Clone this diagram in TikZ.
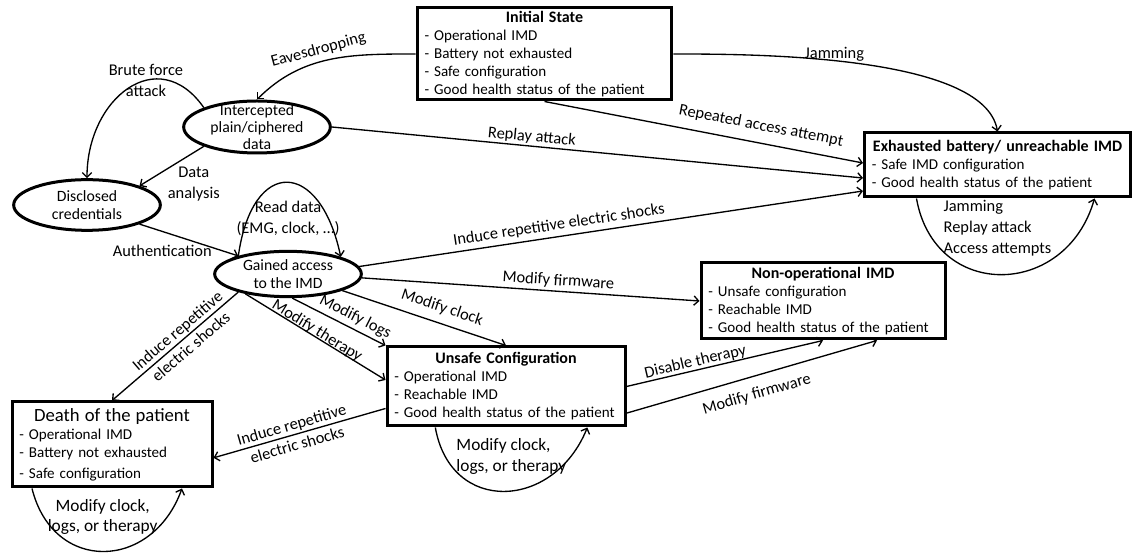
\documentclass[tikz,border=0pt]{standalone}
\usepackage{fontspec}
\setmainfont{Carlito}
\usetikzlibrary{arrows.meta, positioning, shapes.geometric}

\newcommand{\boxtitle}[1]{{\centering\fontsize{12}{14}\selectfont\bfseries #1\par}}

\begin{document}
\begin{tikzpicture}[x=0.75pt, y=0.75pt, line width=1pt,
    >={Straight Barb[length=3.5pt,width=7pt]},
    statebox/.style={draw, line width=2.25pt, align=left, inner xsep=5.5pt, inner ysep=0pt,
      font=\fontsize{11.3}{13.5}\selectfont},
    ellstate/.style={draw, ellipse, line width=2.25pt, align=center, inner xsep=0pt,
      inner ysep=-8pt, minimum width=110pt, font=\fontsize{11.8}{13}\selectfont},
    lbl/.style={inner sep=1pt, align=center, font=\fontsize{12.3}{15.5}\selectfont},
    looplbl/.style={lbl, font=\fontsize{13}{15.5}\selectfont}]
    \useasboundingbox (0,0) rectangle (1133,-555);

    \node [statebox, text width=180pt, minimum height=69pt] (init) at (544.5,-54)
      {\boxtitle{Initial State}- Operational IMD\\- Battery not exhausted\\- Safe configuration\\- Good health status of the patient};
    \node [statebox, text width=188.5pt, minimum height=48pt] (exh) at (997.5,-165)
      {\boxtitle{Exhausted battery/ unreachable IMD}- Safe IMD configuration\\- Good health status of the patient};
    \node [statebox, text width=172pt, minimum height=57pt] (nonop) at (823,-301)
      {\boxtitle{Non-operational IMD}- Unsafe configuration\\- Reachable IMD\\- Good health status of the patient};
    \node [statebox, text width=167.5pt, minimum height=59.25pt] (uns) at (506,-386.5)
      {\boxtitle{Unsafe Configuration}- Operational IMD\\- Reachable IMD\\- Good health status of the patient};
    \node [statebox, text width=139pt, minimum height=63.75pt] (death) at (112,-444.5)
      {{\centering\fontsize{14}{17}\selectfont Death of the patient\par}- Operational IMD\\- Battery not exhausted\\[2pt]- Safe configuration};

    \node [ellstate, minimum height=39pt] (int) at (257,-127) {Intercepted\\plain/ciphered\\data};
    \node [ellstate, minimum height=38pt] (dis) at (87,-205) {Disclosed\\credentials};
    \node [ellstate, minimum height=34pt] (gain) at (288,-274) {Gained access\\to the IMD};

    \node [lbl, above=9pt of gain] (readlbl) {Read data\\(EMG, clock, …)};
    \node [lbl, align=left, below=0pt of exh] (exhlbl) {Jamming\\Replay attack\\Access attempts};
    \node [looplbl, align=left, below=7pt of uns, xshift=4pt] (unslbl) {Modify clock,\\logs, or therapy};
    \node [looplbl, below=6.5pt of death, xshift=-7pt] (deathlbl) {Modify clock,\\logs, or therapy};

    \draw [->] (init.west) to [out=180, in=45] node [lbl, pos=0.55, above=2pt, sloped] {Eavesdropping} (int.north);
    \draw [->] (init.east) to [out=0, in=100, looseness=0.6] node [lbl, pos=0.44, above=-2pt] {Jamming} (exh.north);
    \draw [->] (init.south) -- node [lbl, pos=0.67, above=6pt, sloped] {Repeated access attempt} ([yshift=1.5pt]exh.west);
    \draw [->] (int.east) -- node [lbl, pos=0.375, above=0pt, sloped] {Replay attack} ([yshift=-9.75pt]exh.west);
    \draw [->] (int.200) -- node [lbl, pos=0.55, anchor=north west, xshift=-2pt, yshift=2pt] {Data\\analysis} (dis.20);
    \draw [->] (int.160) to [out=125, in=90, looseness=1.5] node [lbl, pos=0.38] {Brute force\\attack} (dis.north);
    \draw [->] (dis.340) -- node [lbl, pos=0.23, below=8.7pt] {Authentication} (gain.160);
    \draw [->] (gain.160) to [out=82, in=102, looseness=2.5] (gain.18);

    \draw [->] (gain.6) -- node [lbl, pos=0.4, above=1.8pt, sloped] {Induce repetitive electric shocks} ([yshift=-19.5pt]exh.west);
    \draw [->] (gain.357) -- node [lbl, pos=0.58, above=1pt, sloped] {Modify firmware} (nonop.west);
    \draw [->] (gain.343) -- node [lbl, pos=0.58, above=4.8pt, sloped] {Modify clock} (uns.north);
    \draw [->] (gain.280) -- node [lbl, pos=0.62, above=1.8pt, sloped] {Modify logs} (uns.north west);
    \draw [->] (gain.205) -- node [lbl, pos=0.49, above=-2.4pt, sloped] {Modify therapy} ([yshift=4.9pt]uns.west);
    \draw [->] (gain.200) -- node [lbl, pos=0.43, sloped] {Induce repetitive\\electric shocks} (death.north);

    \draw [->] ([yshift=-16.5pt]uns.west) -- node [lbl, pos=0.53, sloped] {Induce repetitive\\electric shocks} ([yshift=-10pt]death.east);
    \draw [->] (uns.east) -- node [lbl, pos=0.36, above=-0.6pt, sloped] {Disable therapy} (nonop.south);
    \draw [->] ([yshift=-20pt]uns.east) -- node [lbl, pos=0.5, below=7pt, sloped] {Modify firmware} ([xshift=40.5pt]nonop.south);

    \draw [->] ([xshift=-53pt]uns.south) to [out=-80, in=-112, looseness=1.5] ([xshift=61pt]uns.south);
    \draw [->] ([xshift=-60pt]death.south) to [out=-76, in=-110, looseness=1.5] ([xshift=52.5pt]death.south);
    \draw [->] ([xshift=-60.75pt]exh.south) to [out=-80, in=-106, looseness=1.5] ([xshift=72.75pt]exh.south);
  \end{tikzpicture}
\end{document}
